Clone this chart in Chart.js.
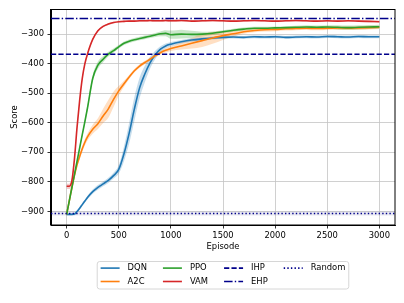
<!DOCTYPE html>
<html>
<head>
<meta charset="utf-8">
<script src="https://cdn.jsdelivr.net/npm/chart.js@4.4.0/dist/chart.umd.min.js"></script>
<style>
html, body { margin: 0; padding: 0; background: #fff; }
</style>
</head>
<body>
<canvas id="score-chart" width="404" height="303"></canvas>
<script>
// episodes at which the smoothed scores were read
var episodes = [0, 25, 50, 75, 100, 125, 150, 175, 200, 250, 300, 350, 400, 450, 500, 550, 600, 650, 700, 750,
    800, 850, 900, 950, 1000, 1100, 1200, 1300, 1400, 1500, 1600, 1700, 1800, 1900, 2000, 2100, 2200, 2300, 2400, 2500,
    2600, 2700, 2800, 2900, 3000];

var dqnMean = [-910, -910, -910, -909, -900, -889, -877, -865, -853, -833, -819, -807, -795, -779, -758, -705, -635, -553, -482, -435,
    -397, -370, -351, -340, -334, -326, -320, -316, -313, -311, -310, -311, -309, -310, -309, -311, -310, -309, -310, -308,
    -309, -310, -308, -309, -309];
var dqnSpread = [3, 3, 3, 4, 4, 5, 5, 5, 6, 7, 8, 8, 9, 10, 14, 25, 35, 40, 35, 28,
    20, 14, 10, 8, 7, 6, 6, 5, 5, 5, 5, 5, 5, 5, 5, 5, 5, 5, 5, 5,
    5, 5, 5, 5, 5];

var a2cMean = [-910, -865, -820, -778, -742, -714, -688, -666, -648, -622, -603, -577, -553, -521, -492, -468, -445, -424, -408, -396,
    -385, -373, -363, -355, -349, -340, -331, -322, -313, -305, -299, -292, -288, -285, -284, -282, -281, -280, -281, -280,
    -279, -280, -279, -278, -277];
var a2cSpread = [4, 5, 6, 7, 8, 9, 10, 11, 12, 15, 18, 24, 30, 26, 16, 10, 7, 6, 6, 6,
    6, 6, 6, 7, 8, 12, 18, 22, 20, 15, 10, 7, 6, 6, 6, 6, 6, 6, 6, 6,
    6, 6, 6, 6, 6];

var ppoMean = [-910, -865, -820, -775, -730, -685, -640, -596, -550, -450, -405, -385, -368, -356, -343, -331, -324, -319, -315, -311,
    -307, -303, -299, -297, -302, -300, -301, -300, -297, -292, -287, -283, -280, -280, -279, -278, -277, -276, -277, -276,
    -277, -278, -277, -276, -275];
var ppoSpread = [4, 5, 5, 6, 6, 6, 7, 7, 8, 10, 12, 10, 8, 7, 6, 6, 6, 6, 6, 6,
    6, 7, 8, 10, 14, 15, 12, 8, 6, 5, 5, 5, 5, 5, 5, 5, 5, 6, 6, 6,
    7, 7, 7, 7, 7];

var vamMean = [-815, -815, -797, -722, -615, -524, -450, -400, -367, -318, -289, -274, -266, -261, -258, -257, -256, -256, -255, -255,
    -254, -255, -255, -254, -255, -254, -256, -255, -254, -255, -256, -255, -254, -255, -256, -255, -254, -255, -256, -255,
    -256, -255, -256, -257, -258];
var vamSpread = [9, 9, 9, 8, 7, 6, 5, 4, 4, 3, 3, 3, 3, 3, 3, 3, 3, 3, 3, 3,
    3, 3, 3, 3, 3, 3, 3, 3, 3, 3, 3, 3, 3, 3, 3, 3, 3, 3, 3, 3,
    3, 3, 3, 3, 3];

// reference levels
var ihpScore = -368;
var ehpScore = -247;
var randomScore = -907;
var randomSpread = 7;

var xTicks = [0, 500, 1000, 1500, 2000, 2500, 3000];
var yTicks = [-900, -800, -700, -600, -500, -400, -300];

var FONT = { family: 'DejaVu Sans', size: 8.4 };
var refColor = '#00008b';
var LW = 1.6;

function pts(ys) {
    return episodes.map(function (x, i) { return { x: x, y: ys[i] }; });
}
function flat(y) {
    return [{ x: -150, y: y }, { x: 3150, y: y }];
}
function bandSets(mean, spread, fillColor) {
    var lo = mean.map(function (m, i) { return m - spread[i]; });
    var hi = mean.map(function (m, i) { return m + spread[i]; });
    return [
        { data: pts(lo), borderWidth: 0, pointRadius: 0, fill: false, order: 20, cubicInterpolationMode: 'monotone' },
        { data: pts(hi), borderWidth: 0, pointRadius: 0, fill: '-1', backgroundColor: fillColor, order: 20, cubicInterpolationMode: 'monotone' }
    ];
}
function meanSet(label, mean, color, order) {
    return { label: label, data: pts(mean), borderColor: color, borderWidth: LW, pointRadius: 0,
        fill: false, order: order, cubicInterpolationMode: 'monotone', inLegend: true };
}
function refSet(label, y, dash, order) {
    return { label: label, data: flat(y), borderColor: refColor, borderWidth: LW, borderDash: dash,
        pointRadius: 0, fill: false, order: order, inLegend: true };
}

var datasets = [].concat(
    bandSets(dqnMean, dqnSpread, 'rgba(31,119,180,0.25)'),
    bandSets(a2cMean, a2cSpread, 'rgba(255,127,14,0.25)'),
    bandSets(ppoMean, ppoSpread, 'rgba(44,160,44,0.25)'),
    bandSets(vamMean, vamSpread, 'rgba(214,39,40,0.25)'),
    [
        { data: flat(randomScore - randomSpread), borderWidth: 0, pointRadius: 0, fill: false, order: 21 },
        { data: flat(randomScore + randomSpread), borderWidth: 0, pointRadius: 0, fill: '-1', backgroundColor: 'rgba(0,0,100,0.09)', order: 21 }
    ],
    [
        meanSet('DQN', dqnMean, '#1f77b4', 8),
        meanSet('A2C', a2cMean, '#ff7f0e', 7),
        meanSet('PPO', ppoMean, '#2ca02c', 6),
        meanSet('VAM', vamMean, '#d62728', 5),
        refSet('IHP', ihpScore, [5.2, 2.2], 4),
        refSet('EHP', ehpScore, [8.5, 2.2, 1.4, 2.2], 3),
        refSet('Random', randomScore, [1.4, 2.2], 2)
    ]
);

function fmt(v) { return String(v).replace('-', '\u2212'); }

// top and right spines like matplotlib's box
var framePlugin = {
    id: 'frame',
    afterDatasetsDraw: function (chart) {
        var a = chart.chartArea, ctx = chart.ctx;
        ctx.save();
        ctx.strokeStyle = '#000';
        ctx.lineWidth = 1;
        ctx.strokeRect(Math.round(a.left) - 0.5, Math.round(a.top) + 0.5,
            Math.round(a.right - a.left) + 0.5, Math.round(a.bottom - a.top) - 0.5);
        ctx.restore();
    }
};

// legend in 4 columns x 2 rows under the axes
var legendPlugin = {
    id: 'mplLegend',
    afterDraw: function (chart) {
        var ctx = chart.ctx, a = chart.chartArea;
        var items = chart.data.datasets.filter(function (d) { return d.inLegend; });
        var rows = 2, cols = Math.ceil(items.length / rows);
        var handle = 19, pad = 8, colSpace = 16, boxPad = 3.4;
        ctx.save();
        ctx.font = FONT.size + 'px "DejaVu Sans"';
        var widths = [];
        for (var c = 0; c < cols; c++) {
            var w = 0;
            for (var r = 0; r < rows; r++) {
                var it = items[c * rows + r];
                if (it) w = Math.max(w, ctx.measureText(it.label).width);
            }
            widths.push(w);
        }
        var total = colSpace * (cols - 1);
        widths.forEach(function (w) { total += handle + pad + w; });
        var cx = (a.left + a.right) / 2;
        var x0 = cx - total / 2;
        var boxTop = a.bottom + 36.5, boxH = 27.5, rowGap = 13.4;
        var bx = x0 - boxPad, bw = total + 2 * boxPad, rad = 2.5;
        ctx.beginPath();
        ctx.moveTo(bx + rad, boxTop);
        ctx.lineTo(bx + bw - rad, boxTop);
        ctx.quadraticCurveTo(bx + bw, boxTop, bx + bw, boxTop + rad);
        ctx.lineTo(bx + bw, boxTop + boxH - rad);
        ctx.quadraticCurveTo(bx + bw, boxTop + boxH, bx + bw - rad, boxTop + boxH);
        ctx.lineTo(bx + rad, boxTop + boxH);
        ctx.quadraticCurveTo(bx, boxTop + boxH, bx, boxTop + boxH - rad);
        ctx.lineTo(bx, boxTop + rad);
        ctx.quadraticCurveTo(bx, boxTop, bx + rad, boxTop);
        ctx.closePath();
        ctx.fillStyle = 'rgba(255,255,255,0.8)';
        ctx.fill();
        ctx.strokeStyle = '#d6d6d6';
        ctx.lineWidth = 1;
        ctx.stroke();

        var x = x0;
        for (var c2 = 0; c2 < cols; c2++) {
            for (var r2 = 0; r2 < rows; r2++) {
                var d = items[c2 * rows + r2];
                if (!d) continue;
                var y = boxTop + 6.6 + r2 * rowGap;
                ctx.beginPath();
                ctx.setLineDash(d.borderDash || []);
                ctx.strokeStyle = d.borderColor;
                ctx.lineWidth = d.borderWidth;
                ctx.moveTo(x, y);
                ctx.lineTo(x + handle, y);
                ctx.stroke();
                ctx.setLineDash([]);
                ctx.fillStyle = '#000';
                ctx.textBaseline = 'middle';
                ctx.textAlign = 'left';
                ctx.fillText(d.label, x + handle + pad, y);
            }
            x += handle + pad + widths[c2] + colSpace;
        }
        ctx.restore();
    }
};

var ctx = document.getElementById('score-chart').getContext('2d');
var scoreChart = new Chart(ctx, {
    type: 'line',
    data: { datasets: datasets },
    plugins: [framePlugin, legendPlugin],
    options: {
        responsive: false,
        animation: false,
        layout: { padding: { top: 9, right: 9, bottom: 51, left: 0 } },
        plugins: { legend: { display: false }, tooltip: { enabled: false } },
        scales: {
            x: {
                type: 'linear', min: -150, max: 3150,
                afterBuildTicks: function (s) { s.ticks = xTicks.map(function (v) { return { value: v }; }); },
                afterFit: function (s) { s.height = 27; },
                ticks: { font: FONT, color: '#000', padding: 2, maxRotation: 0, autoSkip: false, callback: fmt },
                grid: { color: '#c4c4c4', lineWidth: 0.8, tickLength: 3.5, tickColor: '#000', tickWidth: 0.8 },
                border: { color: '#000', width: 1 },
                title: { display: true, text: 'Episode', font: FONT, color: '#000', padding: { top: 0, bottom: 0 } }
            },
            y: {
                type: 'linear', min: -946, max: -215,
                afterBuildTicks: function (s) { s.ticks = yTicks.map(function (v) { return { value: v }; }); },
                afterFit: function (s) { s.width = 51; },
                ticks: { font: FONT, color: '#000', padding: 3.5, autoSkip: false, callback: fmt },
                grid: { color: '#c4c4c4', lineWidth: 0.8, tickLength: 3.5, tickColor: '#000', tickWidth: 0.8 },
                border: { color: '#000', width: 1 },
                title: { display: true, text: 'Score', font: FONT, color: '#000', padding: { top: 9.5, bottom: 0 } }
            }
        }
    }
});
</script>
</body>
</html>
